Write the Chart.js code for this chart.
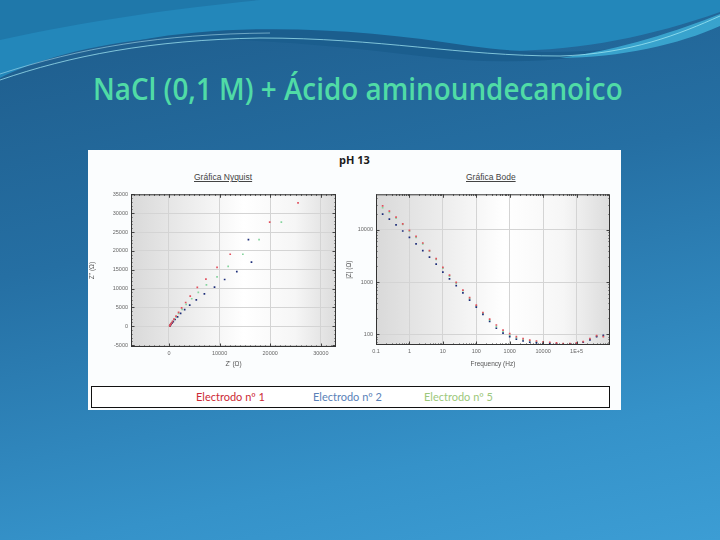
<!DOCTYPE html>
<html>
<head>
<meta charset="utf-8">
<script src="https://cdn.jsdelivr.net/npm/chart.js@4.4.1/dist/chart.umd.min.js"></script>
<style>
  html, body { margin: 0; padding: 0; }
  body { width: 720px; height: 540px; overflow: hidden; position: relative;
         background: linear-gradient(168deg, #1e5b8a 0%, #256fa3 40%, #3592c9 80%, #3c9dd4 100%);
         font-family: "Open Sans", sans-serif; }
  #waves { position: absolute; left: 0; top: 0; }
  #title { position: absolute; left: 93px; top: 71px; font-family: "Open Sans", sans-serif; font-size: 30px; font-weight: 600;
           color: #50dba6; white-space: nowrap; transform-origin: 0 0; line-height: 36px; }
  #panel { position: absolute; left: 88px; top: 150px; width: 533px; height: 260px; background: #fbfdfe; }
  .lbl { position: absolute; white-space: nowrap; color: #333; }
  #ph { left: 0; width: 533px; top: 2px; text-align: center; font-weight: bold; font-size: 11px; color: #1a1a1a; }
  .sub { font-family: "Liberation Sans", sans-serif; font-size: 8.5px; text-decoration: underline; color: #444; top: 22px; }
  #legend { position: absolute; left: 3px; top: 236px; width: 517px; height: 20px; border: 1px solid #111; background: #fff;
            font-family: Lato, sans-serif; font-size: 11px; }
  #legend span { position: absolute; top: 3px; }
  canvas { position: absolute; }
</style>
</head>
<body>
<svg id="waves" width="720" height="140">
  <path d="M0,0 H720 V12 C640,40 560,55 470,50 C360,44 260,30 160,38 C90,44 30,62 0,78 Z" fill="#2387ba"/>
  <path d="M140,40 C240,22 360,28 470,46 C540,56 600,52 650,44 C580,62 500,66 420,56 C320,44 230,36 140,40 Z" fill="#1b5e8e"/>
  <path d="M0,0 H260 C180,8 90,20 0,40 Z" fill="#1f78aa"/>
  <path d="M560,58 C620,50 680,30 720,14 V26 C680,44 620,58 560,58 Z" fill="#3fb2da" opacity="0.8"/>
  <path d="M0,80 C70,56 150,40 260,38 C380,38 460,56 560,56 C630,54 680,34 720,16" stroke="#a8eef8" stroke-width="1" fill="none" opacity="0.7"/>
  <path d="M0,74 C80,48 160,34 270,33" stroke="#c8f6ff" stroke-width="0.8" fill="none" opacity="0.6"/>
</svg>
<div id="title">NaCl (0,1 M) + Ácido aminoundecanoico</div>
<div id="panel">
  <div class="lbl" id="ph">pH 13</div>
  <div class="lbl sub" style="left:106px">Gráfica Nyquist</div>
  <div class="lbl sub" style="left:378px">Gráfica Bode</div>
  <div id="legend">
    <span style="left:104px;color:#cc2a36">Electrodo nº 1</span>
    <span style="left:221px;color:#5a82b8">Electrodo nº 2</span>
    <span style="left:332px;color:#9cc87c">Electrodo nº 5</span>
  </div>
</div>
<canvas id="nyquist" width="262" height="180" style="left:88px;top:188px"></canvas>
<canvas id="bode" width="272" height="180" style="left:345px;top:188px"></canvas>
<script>
// Nyquist data (Z' , -Z'' in ohm)
const nyqRedRe = [25500, 19900, 12100, 9500, 7300, 5600, 4200, 3300, 2500, 1900, 1400, 1000, 700, 500, 350, 250, 180, 150];
const nyqRedIm = [32700, 27600, 19100, 15600, 12500, 10300, 8000, 6300, 4900, 3700, 2700, 1900, 1300, 850, 550, 350, 200, 100];
const nyqBlueRe = [15700, 16300, 13400, 11000, 9000, 7000, 5400, 4100, 3100, 2300, 1700, 1200, 850, 600, 420, 300, 220, 170];
const nyqBlueIm = [23000, 17000, 14500, 12400, 10400, 8600, 7000, 5600, 4400, 3400, 2500, 1800, 1250, 850, 550, 330, 180, 80];
const nyqGreenRe = [22200, 17800, 14600, 11700, 9500, 7400, 5800, 4500, 3400, 2600, 1900, 1400, 1000, 700, 500, 350, 250, 180, 140];
const nyqGreenIm = [27600, 23000, 19100, 15900, 13100, 11000, 9000, 7300, 5800, 4500, 3400, 2500, 1800, 1200, 800, 500, 300, 150, 50];

// Bode data (|Z| in ohm vs frequency in Hz)
const freqHz = [0.1, 0.158, 0.251, 0.398, 0.631, 1, 1.58, 2.51, 3.98, 6.31, 10, 15.8, 25.1, 39.8, 63.1, 100, 158, 251, 398, 631,
  1000, 1580, 2510, 3980, 6310, 10000, 15800, 25100, 39800, 63100, 100000, 158000, 251000, 398000, 631000, 1000000];
const bodeRed = [36800, 28800, 22800, 17500, 13000, 9800, 7500, 5600, 4000, 2800, 1900, 1350, 980, 700, 500, 360, 260, 195, 150, 120,
  102, 90, 82, 77, 74, 71, 70, 68, 66, 66, 68, 72, 82, 94, 90, 78];
const bodeBlue = [25000, 20000, 16000, 12500, 9500, 7200, 5400, 4000, 3000, 2200, 1550, 1150, 850, 620, 450, 330, 240, 175, 130, 105,
  90, 80, 74, 70, 68, 67, 66, 65, 64, 65, 67, 70, 78, 90, 95, 82];
const bodeGreen = [32000, 26500, 21500, 16800, 12700, 9400, 7200, 5400, 3900, 2700, 1850, 1300, 950, 680, 480, 350, 250, 185, 140, 112,
  95, 85, 78, 74, 71, 69, 68, 66, 65, 65, 67, 71, 80, 92, 92, 80];

const seriesNames = ['Electrodo nº 1', 'Electrodo nº 2', 'Electrodo nº 5'];
const seriesColors = ['#e2505e', '#1c2c78', '#86d49e'];

const nyqXTicks = [0, 10000, 20000, 30000];
const nyqYTicks = [-5000, 0, 5000, 10000, 15000, 20000, 25000, 30000, 35000];
const bodeXTicks = [0.1, 1, 10, 100, 1000, 10000, 100000];
const bodeYTicks = [100, 1000, 10000];

const pairs = (a, b) => a.map((v, i) => ({ x: v, y: b[i] }));

const plotBg = {
  id: 'plotBg',
  beforeDraw(chart) {
    const { ctx, chartArea: a } = chart;
    const g = ctx.createLinearGradient(a.left, 0, a.right, 0);
    g.addColorStop(0, '#d9d9d9');
    g.addColorStop(0.55, '#ffffff');
    g.addColorStop(0.8, '#f6f6f6');
    g.addColorStop(1, '#dcdcdc');
    ctx.save();
    ctx.fillStyle = g;
    ctx.fillRect(a.left, a.top, a.right - a.left, a.bottom - a.top);
    ctx.restore();
  }
};

const innerTicks = {
  id: 'innerTicks',
  afterDatasetsDraw(chart) {
    const { ctx, chartArea: a, scales: { x, y } } = chart;
    ctx.save();
    ctx.strokeStyle = '#444';
    ctx.lineWidth = 1;
    const seg = (x1, y1, x2, y2) => { ctx.beginPath(); ctx.moveTo(x1, y1); ctx.lineTo(x2, y2); ctx.stroke(); };
    const minor = chart.options.minor;
    minor.x.forEach(v => {
      const p = Math.round(x.getPixelForValue(v)) + 0.5;
      if (p < a.left || p > a.right) return;
      seg(p, a.top, p, a.top + 1.5); seg(p, a.bottom, p, a.bottom - 1.5);
    });
    minor.y.forEach(v => {
      const p = Math.round(y.getPixelForValue(v)) + 0.5;
      if (p < a.top || p > a.bottom) return;
      seg(a.left, p, a.left + 1.5, p); seg(a.right, p, a.right - 1.5, p);
    });
    x.ticks.forEach(t => {
      const p = Math.round(x.getPixelForValue(t.value)) + 0.5;
      seg(p, a.top, p, a.top + 3.5); seg(p, a.bottom, p, a.bottom - 3.5);
    });
    y.ticks.forEach(t => {
      const p = Math.round(y.getPixelForValue(t.value)) + 0.5;
      seg(a.left, p, a.left + 3.5, p); seg(a.right, p, a.right - 3.5, p);
    });
    ctx.strokeStyle = '#333';
    ctx.strokeRect(a.left + 0.5, a.top + 0.5, a.right - a.left - 1, a.bottom - a.top - 1);
    ctx.restore();
  }
};

const tickFont = { family: 'Liberation Sans', size: 5.5 };
const titleFont = { family: 'Liberation Sans', size: 6.5 };
const gridOpts = { color: '#d4d4d4', lineWidth: 1, drawTicks: false };

function makeDatasets(list) {
  return list.map((d, i) => ({
    label: seriesNames[i],
    data: d,
    showLine: false,
    pointStyle: 'rect',
    pointRadius: 1.2,
    pointBorderWidth: 0,
    backgroundColor: seriesColors[i],
    borderColor: seriesColors[i]
  }));
}

// minor tick positions (axis decoration only)
const nyqMinorX = [], nyqMinorY = [];
for (let v = -7000; v <= 33000; v += 1000) nyqMinorX.push(v);
for (let v = -5000; v <= 35000; v += 1000) nyqMinorY.push(v);
const bodeMinorX = [], bodeMinorY = [];
for (let e = -1; e < 6; e++) for (let m = 2; m <= 9; m++) bodeMinorX.push(m * Math.pow(10, e));
for (let e = 1; e < 5; e++) for (let m = 2; m <= 9; m++) bodeMinorY.push(m * Math.pow(10, e));

new Chart(document.getElementById('nyquist'), {
  type: 'scatter',
  data: { datasets: makeDatasets([pairs(nyqRedRe, nyqRedIm), pairs(nyqBlueRe, nyqBlueIm), pairs(nyqGreenRe, nyqGreenIm)]) },
  options: {
    responsive: false,
    animation: false,
    minor: { x: nyqMinorX, y: nyqMinorY },
    layout: { padding: { top: 5, right: 14, left: 0, bottom: 0 } },
    plugins: { legend: { display: false }, tooltip: { enabled: false } },
    scales: {
      x: {
        type: 'linear', min: -7500, max: 33000,
        afterBuildTicks: s => { s.ticks = nyqXTicks.map(v => ({ value: v })); },
        afterFit: s => { s.height = 21; },
        grid: gridOpts, border: { display: false },
        ticks: { font: tickFont, color: '#666', padding: 3, maxRotation: 0, callback: v => String(v) },
        title: { display: true, text: "Z' (Ω)", font: titleFont, color: '#555', padding: 0 }
      },
      y: {
        type: 'linear', min: -5500, max: 35000,
        afterBuildTicks: s => { s.ticks = nyqYTicks.map(v => ({ value: v })); },
        afterFit: s => { s.width = 43; },
        grid: gridOpts, border: { display: false },
        ticks: { font: tickFont, color: '#666', padding: 3, callback: v => String(v) },
        title: { display: true, text: "Z'' (Ω)", font: titleFont, color: '#555', padding: 0 }
      }
    }
  },
  plugins: [plotBg, innerTicks]
});

new Chart(document.getElementById('bode'), {
  type: 'scatter',
  data: { datasets: makeDatasets([pairs(freqHz, bodeRed), pairs(freqHz, bodeBlue), pairs(freqHz, bodeGreen)]) },
  options: {
    responsive: false,
    animation: false,
    minor: { x: bodeMinorX, y: bodeMinorY },
    layout: { padding: { top: 5, right: 7, left: 0, bottom: 0 } },
    plugins: { legend: { display: false }, tooltip: { enabled: false } },
    scales: {
      x: {
        type: 'logarithmic', min: 0.1, max: 1000000,
        afterBuildTicks: s => { s.ticks = bodeXTicks.map(v => ({ value: v })); },
        afterFit: s => { s.height = 23; },
        grid: gridOpts, border: { display: false },
        ticks: { font: tickFont, color: '#666', padding: 3, maxRotation: 0,
                 callback: v => v === 100000 ? '1E+5' : String(v) },
        title: { display: true, text: 'Frequency (Hz)', font: titleFont, color: '#555', padding: 0 }
      },
      y: {
        type: 'logarithmic', min: 62, max: 48000,
        afterBuildTicks: s => { s.ticks = bodeYTicks.map(v => ({ value: v })); },
        afterFit: s => { s.width = 31; },
        grid: gridOpts, border: { display: false },
        ticks: { font: tickFont, color: '#666', padding: 3, callback: v => String(v) },
        title: { display: true, text: '|Z| (Ω)', font: titleFont, color: '#555', padding: 0 }
      }
    }
  },
  plugins: [plotBg, innerTicks]
});

// fit title to the slide width
const t = document.getElementById('title');
t.style.transform = 'scaleX(' + (530 / t.offsetWidth) + ')';
</script>
</body>
</html>
